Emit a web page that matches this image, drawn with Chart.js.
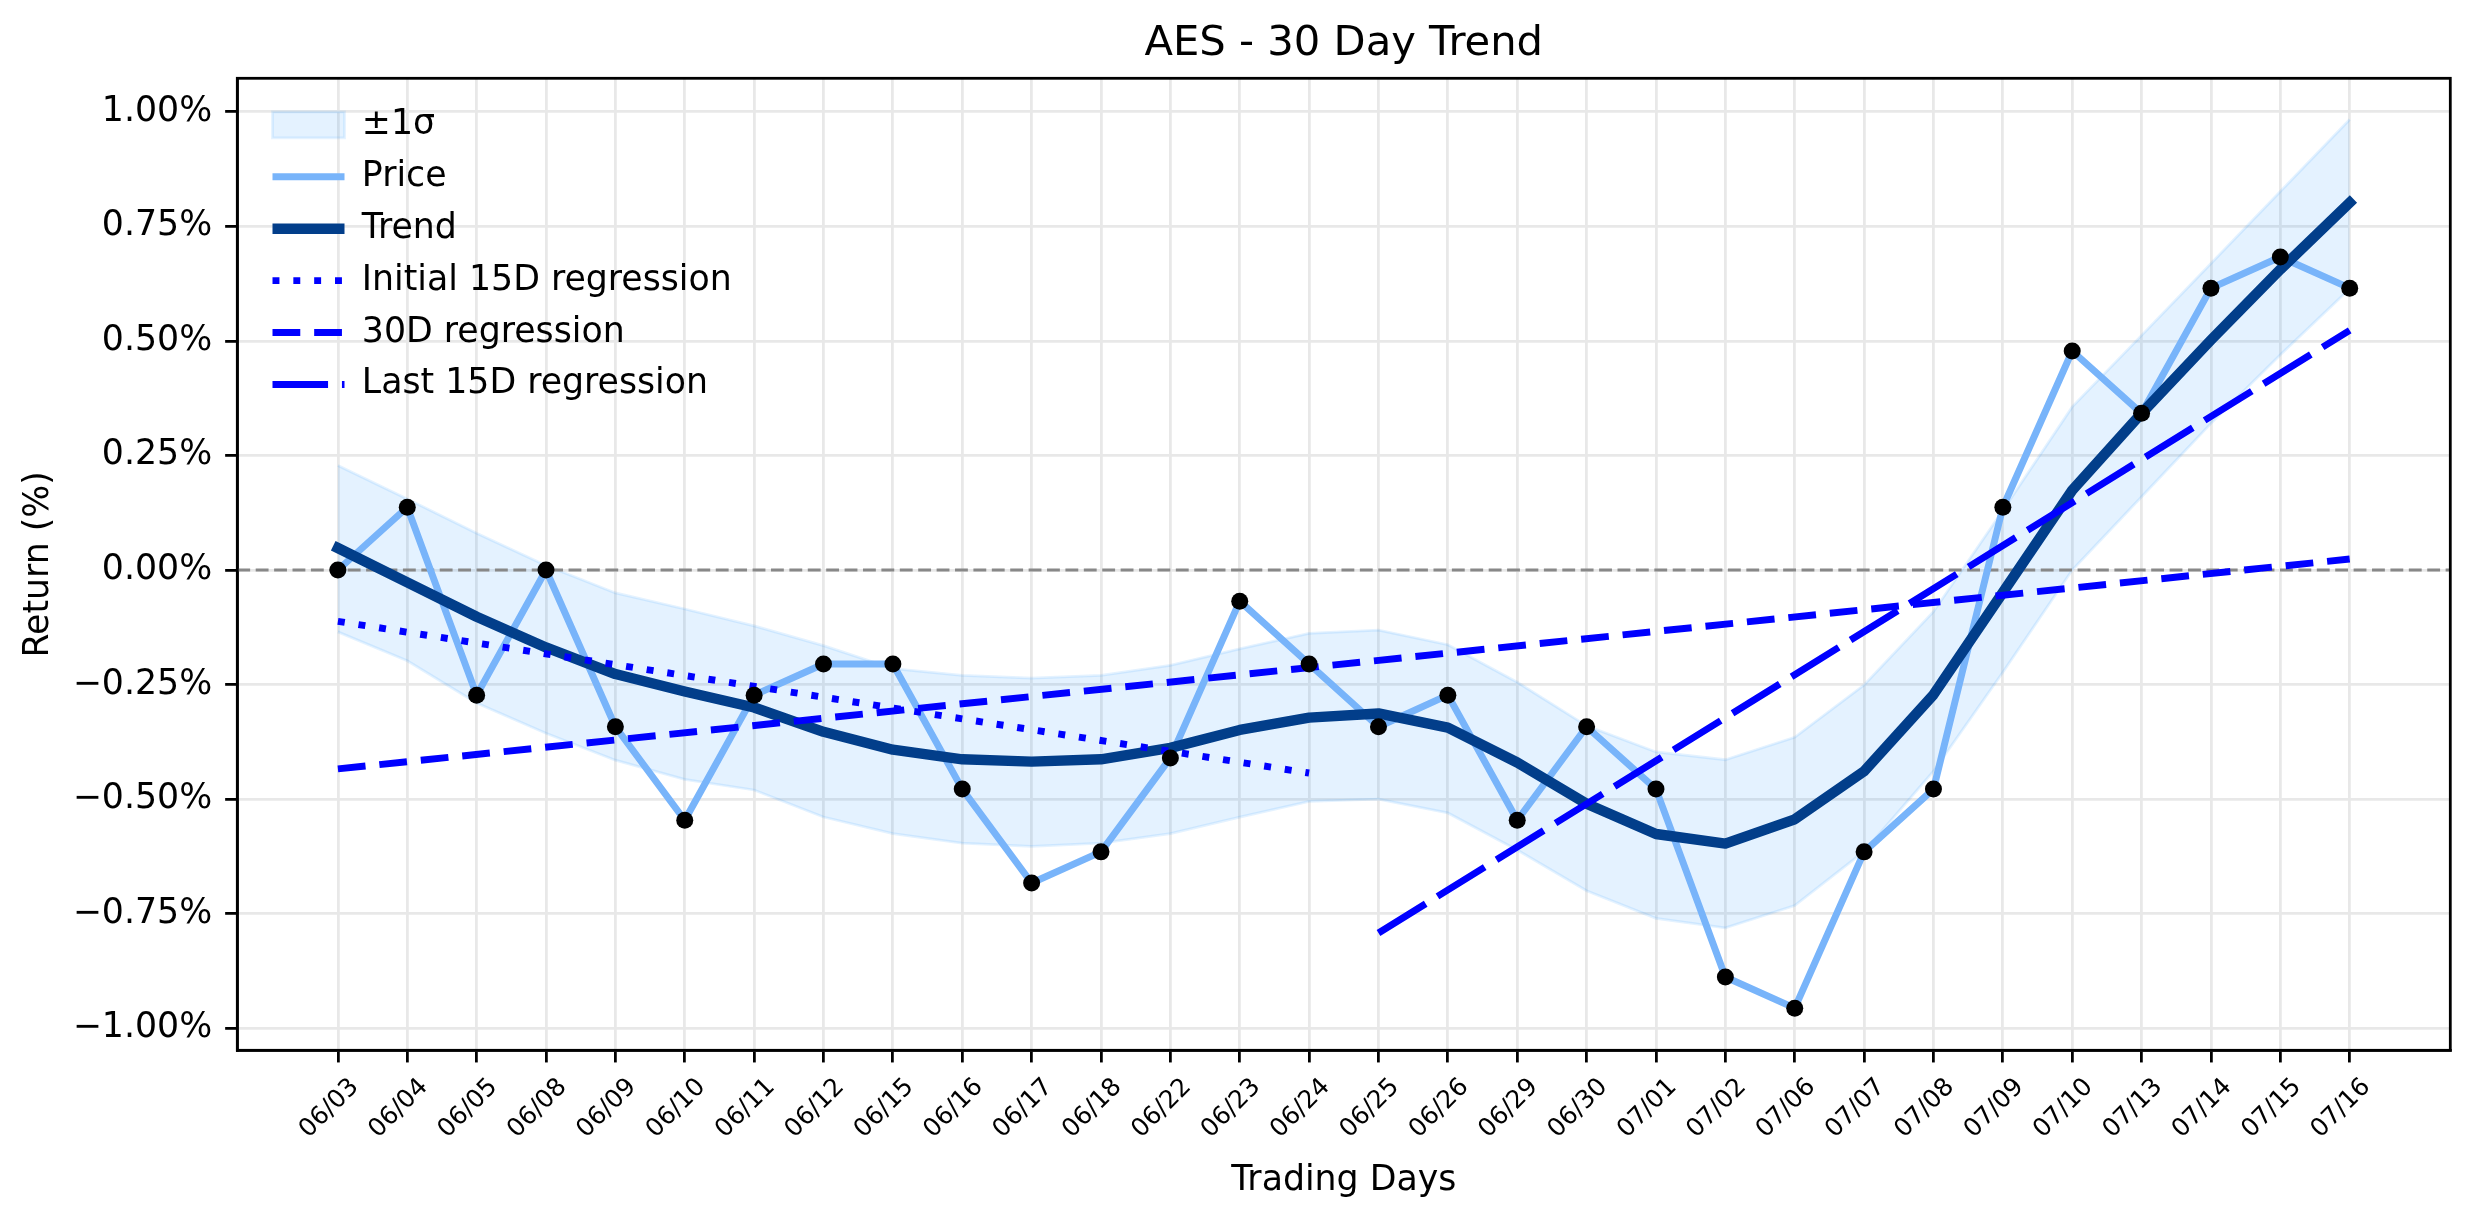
<!DOCTYPE html>
<html>
<head>
<meta charset="utf-8">
<title>AES - 30 Day Trend</title>
<script src="https://cdn.jsdelivr.net/npm/chart.js@4.4.0/dist/chart.umd.min.js"></script>
<style>
  html, body { margin: 0; padding: 0; background: #fff; }
  #wrap { width: 2474px; height: 1224px; }
</style>
</head>
<body>
<div id="wrap"><canvas id="trendChart" width="2474" height="1224"></canvas></div>
<script>
// AES 30 day trend (return in %)

const days = ['06/03', '06/04', '06/05', '06/08', '06/09', '06/10', '06/11', '06/12', '06/15', '06/16',
  '06/17', '06/18', '06/22', '06/23', '06/24', '06/25', '06/26', '06/29', '06/30', '07/01',
  '07/02', '07/06', '07/07', '07/08', '07/09', '07/10', '07/13', '07/14', '07/15', '07/16'];

const price = [0.000, 0.137, -0.273, 0.000, -0.342, -0.546, -0.273, -0.205, -0.205, -0.478,
  -0.683, -0.615, -0.410, -0.068, -0.205, -0.342, -0.273, -0.546, -0.342, -0.478,
  -0.888, -0.956, -0.615, -0.478, 0.137, 0.478, 0.342, 0.615, 0.683, 0.615];

const trend = [0.048, -0.027, -0.102, -0.169, -0.227, -0.265, -0.300, -0.353, -0.392, -0.413,
  -0.418, -0.413, -0.388, -0.349, -0.322, -0.313, -0.344, -0.420, -0.510, -0.576,
  -0.597, -0.544, -0.439, -0.272, -0.049, 0.174, 0.342, 0.502, 0.656, 0.802];

const bandUpper = [0.228, 0.155, 0.080, 0.010, -0.050, -0.085, -0.122, -0.165, -0.215, -0.230,
  -0.236, -0.230, -0.208, -0.172, -0.138, -0.131, -0.163, -0.245, -0.340, -0.397,
  -0.414, -0.365, -0.251, -0.091, 0.130, 0.356, 0.512, 0.669, 0.826, 0.983];

const bandLower = [-0.135, -0.198, -0.290, -0.356, -0.415, -0.457, -0.480, -0.539, -0.575, -0.596,
  -0.603, -0.596, -0.575, -0.539, -0.505, -0.500, -0.530, -0.611, -0.700, -0.760,
  -0.781, -0.732, -0.614, -0.439, -0.223, 0.000, 0.160, 0.320, 0.470, 0.614];

// regression lines: first and last day index, value at those days
const regInitialX = [0, 14];
const regInitialY = [-0.112, -0.443];
const reg30X = [0, 29];
const reg30Y = [-0.434, 0.024];
const regLastX = [15, 29];
const regLastY = [-0.792, 0.523];

const yTicks = [-1.00, -0.75, -0.50, -0.25, 0.00, 0.25, 0.50, 0.75, 1.00];
const zeroLevel = 0;

// styles
const PT = 250 / 72;               // px per point in the reference
const BAND = 'rgba(30,144,255,0.12)';
const PRICE = '#78b4fa';
const TREND = '#023e8a';
const REG = '#0000ff';
const GRID = '#e8e8e8';

Chart.defaults.font.family = "'DejaVu Sans', sans-serif";
Chart.defaults.color = '#000';

const series = vals => vals.map((v, i) => ({ x: i, y: v }));
const segment = (xs, ys) => xs.map((x, i) => ({ x: x, y: ys[i] }));
const pct = v => (v < 0 ? '\u2212' : '') + Math.abs(v).toFixed(2) + '%';

const legendRows = [
  { text: '\u00b11\u03c3', pointStyle: 'rect', fillStyle: BAND, strokeStyle: BAND, lineWidth: 0.8 * PT, lineDash: [] },
  { text: 'Price', pointStyle: 'line', fillStyle: PRICE, strokeStyle: PRICE, lineWidth: 2 * PT, lineDash: [] },
  { text: 'Trend', pointStyle: 'line', fillStyle: TREND, strokeStyle: TREND, lineWidth: 3 * PT, lineDash: [] },
  { text: 'Initial 15D regression', pointStyle: 'line', fillStyle: REG, strokeStyle: REG, lineWidth: 2 * PT, lineDash: [2 * PT, 4 * PT] },
  { text: '30D regression', pointStyle: 'line', fillStyle: REG, strokeStyle: REG, lineWidth: 2 * PT, lineDash: [8 * PT, 4 * PT] },
  { text: 'Last 15D regression', pointStyle: 'line', fillStyle: REG, strokeStyle: REG, lineWidth: 2 * PT, lineDash: [16 * PT, 4 * PT] }
];

// zero line right above the band, frame round the axes, legend inside the top left corner
const extras = {
  id: 'extras',
  afterLayout(chart) {
    const a = chart.chartArea;
    chart.legend.left = a.left + 18;
    chart.legend.top = a.top + 12;
  },
  afterDatasetDraw(chart, args) {
    if (args.index !== 1) return;
    const { ctx, chartArea: a, scales: { y } } = chart;
    const py = y.getPixelForValue(zeroLevel);
    ctx.save();
    ctx.strokeStyle = '#888888';
    ctx.lineWidth = 0.9 * PT;
    ctx.setLineDash([3.7 * PT, 1.6 * PT]);
    ctx.beginPath();
    ctx.moveTo(a.left, py);
    ctx.lineTo(a.right, py);
    ctx.stroke();
    ctx.restore();
  },
  afterDraw(chart) {
    const { ctx, chartArea: a } = chart;
    ctx.save();
    ctx.strokeStyle = '#000';
    ctx.lineWidth = 0.8 * PT;
    ctx.strokeRect(a.left, a.top, a.right - a.left, a.bottom - a.top);
    ctx.restore();
  }
};

new Chart(document.getElementById('trendChart'), {
  type: 'line',
  data: {
    datasets: [
      { label: 'band low', data: series(bandLower), borderColor: BAND, borderWidth: 0.8 * PT, pointRadius: 0, fill: false, order: 11 },
      { label: '\u00b11\u03c3', data: series(bandUpper), borderColor: BAND, borderWidth: 0.8 * PT, backgroundColor: BAND, pointRadius: 0, fill: '-1', order: 10 },
      { label: 'Price', data: series(price), borderColor: PRICE, borderWidth: 2 * PT, pointRadius: 0, borderJoinStyle: 'round', order: 5 },
      { label: 'Trend', data: series(trend), borderColor: TREND, borderWidth: 3 * PT, pointRadius: 0, borderJoinStyle: 'round', borderCapStyle: 'square', order: 4 },
      { label: 'Initial 15D regression', data: segment(regInitialX, regInitialY), borderColor: REG, borderWidth: 2 * PT, borderDash: [2 * PT, 4 * PT], pointRadius: 0, order: 3 },
      { label: '30D regression', data: segment(reg30X, reg30Y), borderColor: REG, borderWidth: 2 * PT, borderDash: [8 * PT, 4 * PT], pointRadius: 0, order: 2 },
      { label: 'Last 15D regression', data: segment(regLastX, regLastY), borderColor: REG, borderWidth: 2 * PT, borderDash: [16 * PT, 4 * PT], pointRadius: 0, order: 1 },
      { label: 'price points', data: series(price), showLine: false, pointRadius: 8.5, pointBorderWidth: 0, pointBackgroundColor: '#000', order: 0 }
    ]
  },
  options: {
    responsive: false,
    devicePixelRatio: 1,
    animation: false,
    events: [],
    layout: { padding: { left: 0, right: 23.7, top: 0, bottom: 0 } },
    plugins: {
      tooltip: { enabled: false },
      title: {
        display: true,
        text: 'AES - 30 Day Trend',
        fullSize: false,
        font: { size: 12 * PT, weight: 'normal' },
        color: '#000',
        padding: { top: 19, bottom: 9.3 }
      },
      legend: {
        position: 'chartArea',
        align: 'start',
        labels: {
          usePointStyle: true,
          pointStyleWidth: 72,
          boxHeight: 26,
          padding: 17.2,
          color: '#000',
          font: { size: 10 * PT },
          generateLabels: () => legendRows.map((r, i) => Object.assign({ datasetIndex: i, hidden: false, lineCap: 'butt' }, r))
        }
      }
    },
    scales: {
      x: {
        type: 'linear',
        min: -1.45,
        max: 30.45,
        afterBuildTicks: s => { s.ticks = days.map((d, i) => ({ value: i })); },
        afterFit: s => { s.height = 173.7; },
        ticks: {
          autoSkip: false,
          minRotation: 45,
          maxRotation: 45,
          padding: 10,
          labelOffset: 17,
          font: { size: 25 },
          color: '#000',
          callback: v => days[v]
        },
        grid: { color: GRID, lineWidth: 0.8 * PT, tickColor: '#000', tickLength: 3.5 * PT, tickWidth: 0.8 * PT },
        border: { color: '#000', width: 0.8 * PT },
        title: { display: true, text: 'Trading Days', font: { size: 10 * PT }, color: '#000', padding: { top: 0, bottom: 21.9 } }
      },
      y: {
        min: -1.048,
        max: 1.073,
        afterBuildTicks: s => { s.ticks = yTicks.map(v => ({ value: v })); },
        afterFit: s => { s.width = 237.3; },
        ticks: { padding: 13, font: { size: 10 * PT }, color: '#000', callback: v => pct(v) },
        grid: { color: GRID, lineWidth: 0.8 * PT, tickColor: '#000', tickLength: 3.5 * PT, tickWidth: 0.8 * PT },
        border: { color: '#000', width: 0.8 * PT },
        title: { display: true, text: 'Return (%)', font: { size: 10 * PT }, color: '#000', padding: { top: 18.5, bottom: 0 } }
      }
    }
  },
  plugins: [extras]
});
</script>
</body>
</html>
